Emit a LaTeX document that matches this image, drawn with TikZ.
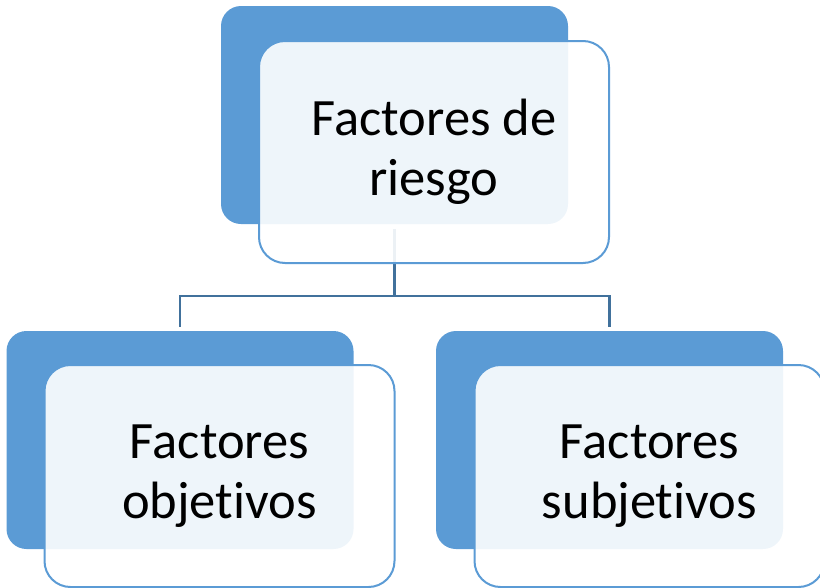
\documentclass[tikz,border=0pt]{standalone}
\usepackage{fontspec}
\setmainfont{Carlito}[Ligatures={NoCommon}]
\usetikzlibrary{calc}

\definecolor{boxblue}{HTML}{5B9BD5}
\definecolor{lineblue}{HTML}{41719C}

\begin{document}
\begin{tikzpicture}[x=1pt, y=-1pt]
		\tikzset{back/.style={rectangle, rounded corners=20pt, fill=boxblue, minimum width=347pt, minimum height=218pt, inner sep=0pt}};
		\tikzset{front/.style={rectangle, rounded corners=26pt, draw=boxblue, line width=2pt, fill=white, fill opacity=0.9, text opacity=1, minimum width=350pt, minimum height=222pt, inner sep=0pt, align=center, font=\fontsize{52.5}{60}\selectfont}};
		\tikzset{conn/.style={draw=lineblue, line width=2.2pt}};

		\useasboundingbox (0,0) rectangle (820,587);
		\clip (0,0) rectangle (820,587);

		% back boxes
		\node[back] (topd) at (394.5, 115) {};
		\node[back] (leftd) at (180, 440) {};
		\node[back] (rightd) at (609.5, 440) {};

		% connectors
		\coordinate (fork) at (394.5, 296);
		\draw[conn, shorten <=5pt] (topd.south) to (fork);
		\draw[conn, shorten <=4pt, shorten >=4pt] (leftd.north) |- (fork) -| (rightd.north);

		% front boxes
		\node[front] (topf) at (434, 152) {Factores de\\riesgo};
		\node[front] (leftf) at (219.5, 476) {Factores\\objetivos};
		\node[front] (rightf) at (649.5, 476) {Factores\\subjetivos};
	\end{tikzpicture}
\end{document}
